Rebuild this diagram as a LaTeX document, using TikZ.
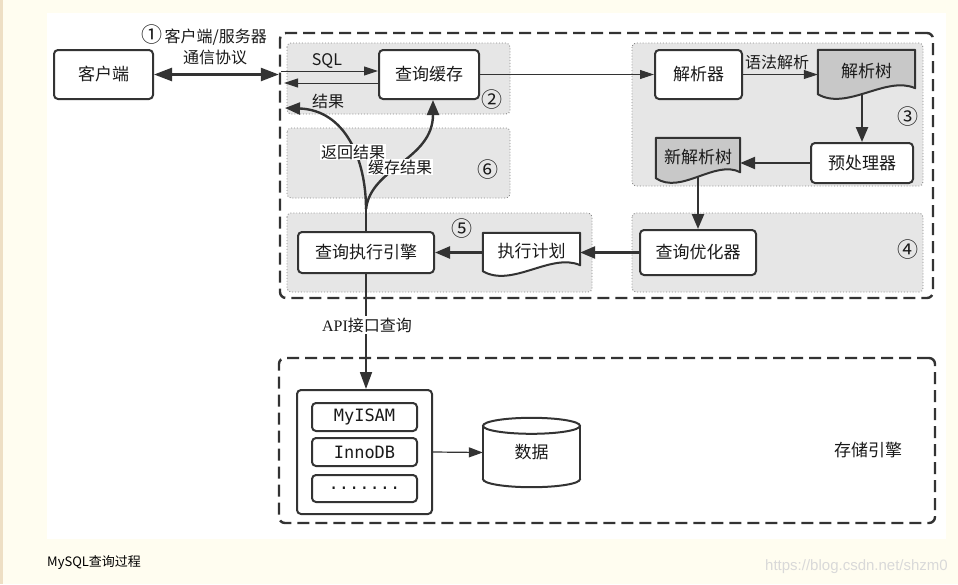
\documentclass[tikz,border=0pt]{standalone}
\usepackage{fontspec}
\setmainfont{Noto Sans CJK SC}
\newfontfamily\apifont{Liberation Serif}
\newfontfamily\codefont{DejaVu Sans Mono}
\newfontfamily\wmfont{Liberation Sans}
\usetikzlibrary{arrows.meta,calc}
\pgfdeclarelayer{bg}
\pgfdeclarelayer{mid}
\pgfsetlayers{bg,mid,main}
\definecolor{dark}{HTML}{333333}
\definecolor{txt}{HTML}{1A1A1A}
\definecolor{regfill}{HTML}{E6E6E6}
\definecolor{regline}{HTML}{8A8A8A}
\definecolor{docgray}{HTML}{C8C8C8}
\definecolor{cream}{HTML}{FFFDF0}
\definecolor{beige}{HTML}{EEDFC4}
\definecolor{wm}{HTML}{D9D9D9}
\newcommand\fbig{\fontsize{17}{20}\selectfont}
\newcommand\fmid{\fontsize{16}{19}\selectfont}
\newcommand\circnum[1]{{\fontsize{21}{21}\selectfont #1}}
\newcommand\docshape[2]{%
  \path[draw=dark,line width=2pt,fill=#2,line join=round]
    (#1.north west) -- (#1.north east) -- ($(#1.south east)+(0,-5)$)
    .. controls ($(#1.south east)!0.3!(#1.south west)+(0,-18)$)
       and ($(#1.south east)!0.7!(#1.south west)+(0,18)$)
    .. ($(#1.south west)+(0,1)$) -- cycle;}
\begin{document}
\begin{tikzpicture}[x=1pt,y=-1pt,
  box/.style={draw=dark,line width=2pt,rounded corners=4pt,fill=white,
    font=\fbig,text=txt,inner sep=0pt},
  docnode/.style={inner sep=0pt,font=\fbig,text=txt},
  region/.style={draw=regline,dotted,line width=0.9pt,fill=regfill,rounded corners=4pt},
  dashbox/.style={draw=dark,line width=2.4pt,dash pattern=on 12pt off 6pt,
    rounded corners=6pt,inner sep=0pt},
  lbl/.style={font=\fmid,text=txt,inner sep=1pt},
  num/.style={font=\fontsize{21}{21}\selectfont,text=txt,inner sep=0pt},
  thinarr/.style={draw=dark,line width=1pt,-{Triangle[length=14pt,width=9pt]}},
  thickarr/.style={draw=dark,line width=2.4pt,-{Triangle[length=15pt,width=12pt]}},
  ibox/.style={draw=dark,line width=2pt,rounded corners=4pt,fill=white,
    minimum width=105pt,inner sep=0pt,font=\codefont\fontsize{17}{19}\selectfont,text=txt},
]
\useasboundingbox (0,0) rectangle (958,584);
\begin{pgfonlayer}{bg}
  \fill[cream] (0,0) rectangle (958,584);
  \fill[beige] (0,0) rectangle (3,584);
  \fill[white] (47,13) rectangle (946,539);
  \path[region] (287,43) rectangle (510,114);
  \path[region] (287,128) rectangle (510,198);
  \path[region] (287,213) rectangle (592,292);
  \path[region] (632,43) rectangle (923,186);
  \path[region] (632,213) rectangle (923,292);
\end{pgfonlayer}

% outer boxes
\node[dashbox,minimum width=653pt,minimum height=265pt] (server) at (606.5,165.5) {};
\node[dashbox,minimum width=656pt,minimum height=165pt] (engbox) at (607,440.5) {};

% client
\node[box,minimum width=99pt,minimum height=49pt] (client) at (103.5,74.5) {客户端};
\node[lbl] (proto1) at (204,35) {\circnum{①}\,客户端/服务器};
\node[lbl] (proto2) at (215,57) {通信协议};
\draw[draw=dark,line width=2.5pt,{Triangle[length=18pt,width=13pt]}-{Triangle[length=18pt,width=13pt]}]
  (client.east) -- (client.east -| server.west);

% region 2
\node[box,minimum width=100pt,minimum height=49pt] (cache) at (429,74.5) {查询缓存};
\coordinate (sqlS) at (281,71);
\coordinate (resE) at (284,83);
\draw[thinarr] (sqlS) -- (cache.west |- sqlS);
\draw[thinarr] (cache.west |- resE) -- (resE);
\node[lbl] (sqllbl) at (327,61) {SQL};
\node[lbl] (reslbl) at (328,101) {结果};
\node[num] (n2) at (492,100) {②};

% region 3
\node[box,minimum width=87pt,minimum height=49pt] (parser) at (698.5,74.5) {解析器};
\node[docnode,minimum width=97pt,minimum height=43pt] (tree) at (866.5,71.5) {\raisebox{-1pt}{解析树}};
\node[box,minimum width=102pt,minimum height=40pt] (pre) at (862,163) {预处理器};
\node[docnode,minimum width=84pt,minimum height=39pt] (newtree) at (698,157.5) {\raisebox{-4pt}{新解析树}};
\node[num] (n3) at (908,117) {③};
\begin{pgfonlayer}{mid}
  \docshape{tree}{docgray}
  \docshape{newtree}{docgray}
\end{pgfonlayer}
\draw[thinarr] (cache.east) -- (parser.west);
\draw[thinarr] (parser.east) -- (parser.east -| tree.west);
\node[lbl,anchor=south] (synlbl) at (777,71) {语法解析};
\draw[thickarr] (pre.north |- tree.south) -- (pre.north);
\draw[thickarr] (pre.west) -- (pre.west -| newtree.east);

% region 4
\node[box,minimum width=116pt,minimum height=45pt] (opt) at (698,252.5) {查询优化器};
\node[num] (n4) at (908,250) {④};
\draw[thickarr] (newtree.south) -- (opt.north);

% region 5
\node[box,minimum width=136pt,minimum height=41pt] (engine) at (366,252.5) {查询执行引擎};
\node[docnode,minimum width=97pt,minimum height=37pt] (plan) at (531.5,251.5) {执行计划};
\begin{pgfonlayer}{mid}
  \docshape{plan}{white}
\end{pgfonlayer}
\node[num] (n5) at (462,229) {⑤};
\draw[thickarr] (opt.west) -- (opt.west -| plan.east);
\draw[thickarr] (plan.west |- engine.east) -- (engine.east);

% region 6 and return curves
\coordinate (split) at ($(engine.north)+(0,-22)$);
\coordinate (retE) at (285,108);
\draw[draw=dark,line width=2.4pt] (engine.north) -- (split);
\draw[thickarr] (split) .. controls +(0,-50) and +(60,2) .. (retE);
\draw[thickarr] (split) .. controls +(5,-42) and +(0,60) .. ($(cache.south)+(4,0)$);
\node[lbl,fill=white] (retlbl) at (353,152) {返回结果};
\node[lbl,fill=white] (cachelbl) at (400,167) {缓存结果};
\node[num] (n6) at (488,170) {⑥};

% storage engine
\node[box,minimum width=135pt,minimum height=124pt] (stor) at (364.5,452) {};
\node[ibox,minimum height=28pt] (myisam) at (364.5,417) {MyISAM};
\node[ibox,minimum height=28pt] (innodb) at (364.5,452) {InnoDB};
\node[ibox,minimum height=27pt] (dots) at (364.5,488.5) {.......};
\draw[draw=dark,line width=1.8pt,-{Triangle[length=17pt,width=12pt]}] (engine.south) -- (engine.south |- stor.north);
\node[lbl,fill=white,inner sep=2pt] (apilbl) at (367,325) {{\apifont API}接口查询};

\node[docnode,minimum width=97pt,minimum height=69pt] (data) at (531.5,452.5) {\raisebox{-5pt}{数据}};
\begin{pgfonlayer}{mid}
  \draw[draw=dark,line width=2pt,fill=white] ($(data.south)+(0,-8)$) ellipse [x radius=48.5,y radius=8];
  \fill[white] ($(data.north west)+(0,8)$) rectangle ($(data.south east)+(0,-8)$);
  \draw[draw=dark,line width=2pt] ($(data.north west)+(0,8)$) -- ($(data.south west)+(0,-8)$);
  \draw[draw=dark,line width=2pt] ($(data.north east)+(0,8)$) -- ($(data.south east)+(0,-8)$);
  \draw[draw=dark,line width=2pt,fill=white] ($(data.north)+(0,8)$) ellipse [x radius=48.5,y radius=8];
\end{pgfonlayer}
\draw[draw=dark,line width=1.2pt,-{Triangle[length=14pt,width=10pt]}] (stor.east) -- (data.west);
\node[lbl] (englbl) at (868,450) {\fbig 存储引擎};

% caption and watermark
\node[anchor=west,font=\fontsize{13}{15}\selectfont,text=black,inner sep=0pt] (cap) at (47,563) {MySQL查询过程};
\node[anchor=east,font=\wmfont\fontsize{15}{17}\selectfont,text=wm,inner sep=0pt] (wmark) at (948,567) {https://blog.csdn.net/shzm0};
\end{tikzpicture}
\end{document}
